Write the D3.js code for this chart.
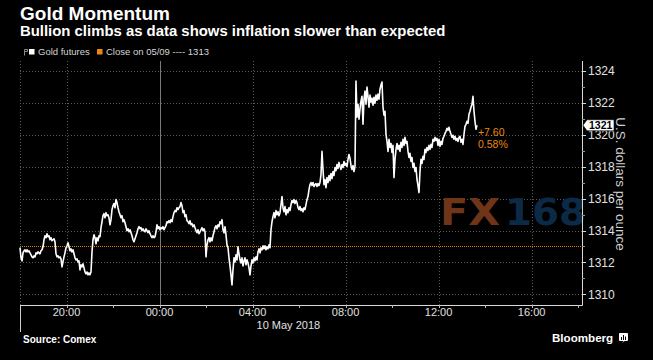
<!DOCTYPE html>
<html><head><meta charset="utf-8">
<script src="https://cdn.jsdelivr.net/npm/d3@7"></script>
<style>html,body{margin:0;padding:0;background:#000;} svg{display:block}</style>
</head><body><svg id="c" width="653" height="360"></svg>
<script>
const title = "Gold Momentum";
const subtitle = "Bullion climbs as data shows inflation slower than expected";
const seriesName = "Gold futures";
const closeLabel = "Close on 05/09 ---- 1313";
const yAxisTitle = "U.S. dollars per ounce";
const sourceText = "Source: Comex";
const dateLabel = "10 May 2018";
const prevClose = 1313;
const yTicks = [1310, 1312, 1314, 1316, 1318, 1320, 1322, 1324];
const yMinorTicks = [1311, 1313, 1315, 1317, 1319, 1321, 1323];
const xTickLabels = ["20:00", "00:00", "04:00", "08:00", "12:00", "16:00"];
const startTime = new Date(2018, 4, 9, 18, 0);
const sampleMinutes = 2.58;
const prices = [
1312.92,1312.29,1312.10,1312.60,1312.73,1312.79,1312.66,1312.79,1312.66,1312.73,
1312.60,1312.48,1312.35,1312.29,1312.41,1312.35,1312.60,1312.54,1312.66,1312.60,
1312.54,1312.73,1312.79,1312.98,1313.42,1313.67,1313.55,1313.80,1313.61,1313.67,
1313.42,1313.55,1313.36,1313.42,1313.48,1313.29,1312.54,1312.35,1312.41,1312.29,
1312.35,1312.22,1311.72,1312.03,1312.35,1312.60,1312.92,1313.04,1313.23,1312.98,
1312.73,1312.85,1312.66,1312.79,1312.54,1312.29,1312.16,1312.22,1312.03,1312.10,
1311.53,1311.85,1311.72,1311.91,1311.66,1311.40,1311.28,1311.40,1311.22,1311.34,
1311.22,1311.40,1312.66,1313.42,1313.73,1313.55,1313.17,1313.55,1313.36,1313.67,
1313.61,1314.18,1314.55,1314.93,1315.06,1314.80,1315.12,1314.93,1314.99,1314.80,
1314.36,1314.68,1315.31,1315.56,1315.69,1315.43,1315.94,1315.75,1315.43,1315.18,
1314.99,1314.80,1314.93,1314.55,1314.68,1314.49,1314.24,1313.99,1314.11,1313.92,
1314.05,1313.86,1313.67,1313.42,1313.29,1313.48,1313.67,1313.86,1314.11,1314.24,
1314.11,1314.18,1313.99,1314.11,1313.99,1313.92,1314.11,1313.99,1313.86,1313.99,
1313.80,1313.67,1313.55,1313.67,1313.55,1313.61,1313.92,1314.36,1314.11,1314.24,
1314.05,1314.18,1314.11,1314.24,1314.05,1314.18,1314.30,1314.55,1314.49,1314.62,
1314.49,1314.68,1314.55,1314.87,1315.12,1315.25,1315.18,1315.43,1315.31,1315.43,
1315.50,1315.75,1315.56,1315.12,1315.25,1314.87,1314.99,1314.62,1314.55,1314.43,
1314.62,1314.36,1314.43,1314.24,1314.36,1314.18,1313.99,1313.86,1314.05,1313.80,
1313.92,1314.05,1314.18,1313.99,1314.11,1313.92,1312.35,1313.10,1313.42,1313.55,
1313.29,1313.55,1313.36,1313.67,1313.92,1314.18,1314.30,1314.11,1314.36,1314.24,
1314.55,1314.43,1314.68,1314.05,1313.86,1314.24,1313.73,1313.10,1312.92,1312.29,
1311.78,1311.22,1310.59,1311.53,1312.29,1312.03,1312.48,1312.16,1312.98,1312.54,
1312.16,1311.97,1312.29,1311.78,1312.10,1312.29,1311.85,1312.16,1311.97,1311.66,
1311.22,1311.78,1312.16,1311.97,1312.29,1312.10,1312.35,1312.16,1312.66,1312.85,
1312.60,1312.92,1312.79,1313.04,1312.85,1313.04,1312.79,1312.98,1312.85,1313.10,
1312.92,1314.05,1314.55,1314.87,1315.12,1314.80,1315.25,1314.99,1315.18,1314.93,
1315.12,1315.62,1316.13,1315.43,1315.18,1315.50,1314.99,1315.31,1315.12,1315.43,
1315.25,1315.62,1315.88,1315.75,1315.94,1315.69,1315.88,1315.75,1315.43,1315.31,
1315.50,1315.25,1315.37,1315.18,1315.43,1315.31,1315.62,1315.94,1316.13,1316.57,
1316.88,1317.01,1316.82,1317.01,1316.76,1316.88,1316.95,1316.76,1316.95,1316.82,
1317.01,1317.51,1318.96,1317.83,1316.88,1317.20,1316.69,1317.32,1317.01,1317.45,
1317.13,1317.58,1317.26,1317.70,1317.45,1317.95,1317.76,1318.14,1317.89,1318.27,
1318.02,1317.83,1318.14,1317.95,1318.33,1318.08,1318.21,1318.02,1318.46,1318.77,
1318.52,1318.08,1317.83,1318.08,1317.70,1318.02,1323.37,1321.10,1321.92,1320.98,
1321.61,1322.11,1322.42,1320.66,1322.24,1322.74,1321.92,1322.99,1322.42,1321.73,
1322.49,1322.05,1322.30,1321.86,1322.36,1321.98,1322.49,1322.17,1322.55,1322.24,
1322.86,1323.12,1323.31,1321.73,1321.23,1321.48,1320.03,1319.59,1318.96,1319.72,
1319.21,1319.46,1318.90,1319.34,1317.32,1318.46,1319.09,1319.46,1319.09,1319.34,
1318.96,1319.53,1319.21,1319.72,1319.34,1319.84,1319.46,1319.59,1318.96,1318.58,
1318.84,1318.33,1318.58,1317.95,1318.21,1317.70,1317.95,1317.20,1316.82,1316.38,
1317.70,1318.46,1318.21,1318.65,1318.46,1319.09,1318.90,1319.21,1319.02,1319.34,
1319.09,1319.40,1319.21,1319.72,1319.59,1319.84,1319.65,1319.78,1319.34,1319.72,
1319.28,1319.59,1319.40,1319.78,1319.91,1320.09,1320.22,1320.41,1320.28,1320.47,
1320.22,1320.03,1319.84,1319.97,1319.72,1319.91,1319.65,1319.78,1319.59,1319.84,
1319.91,1319.53,1319.72,1319.40,1320.03,1320.53,1320.66,1320.85,1320.72,1321.29,
1321.48,1321.73,1321.92,1322.42,1321.48,1320.85,1320.35,1320.60
];

const svg = d3.select("#c");
const W = 653, H = 360;
const plot = {left: 20, right: 582, top: 61, bottom: 305};
svg.append("rect").attr("width", W).attr("height", H).attr("fill", "#000");

const x = d3.scaleTime()
  .domain([new Date(2018, 4, 9, 18, 0), new Date(2018, 4, 10, 18, 10)])
  .range([plot.left, plot.right]);
const y = d3.scaleLinear().domain([1309.33, 1324.63]).range([plot.bottom, plot.top]);

const data = prices.map((p, i) => ({t: new Date(+startTime + i * sampleMinutes * 60000), v: p}));
const majorTimes = d3.timeHour.every(4).range(new Date(2018,4,9,20), x.domain()[1]);
const minorTimes = d3.timeHour.every(2).range(new Date(2018,4,9,20), x.domain()[1]);

const FONT = "'Liberation Sans', Arial, sans-serif";

// horizontal grid
svg.append("g").selectAll("line").data(yTicks).join("line")
  .attr("x1", plot.left).attr("x2", plot.right)
  .attr("y1", d => Math.round(y(d)) + 0.5).attr("y2", d => Math.round(y(d)) + 0.5)
  .attr("stroke", "#5a5a5a").attr("stroke-dasharray", "1,2");

// vertical grid
svg.append("g").selectAll("line").data(majorTimes).join("line")
  .attr("x1", d => Math.round(x(d)) + 0.5).attr("x2", d => Math.round(x(d)) + 0.5)
  .attr("y1", plot.top).attr("y2", plot.bottom)
  .attr("stroke", d => d.getHours() === 0 ? "#7a7a7a" : "#5a5a5a")
  .attr("stroke-dasharray", d => d.getHours() === 0 ? null : "1,2");

// left border
svg.append("line").attr("x1", plot.left + 0.5).attr("x2", plot.left + 0.5)
  .attr("y1", plot.top).attr("y2", plot.bottom)
  .attr("stroke", "#5a5a5a").attr("stroke-dasharray", "1,2");
svg.append("line").attr("x1", plot.left + 0.5).attr("x2", plot.left + 0.5)
  .attr("y1", plot.bottom).attr("y2", 332).attr("stroke", "#cfcfcf");

// watermark
const wm = svg.append("g").attr("font-family", "'DejaVu Sans', sans-serif").attr("font-weight", "bold").attr("font-size", 37);
wm.append("text").attr("x", 440).attr("y", 225).attr("fill", "#6e3519").attr("textLength", 60).attr("lengthAdjust", "spacingAndGlyphs").text("FX");
wm.append("text").attr("x", 505).attr("y", 225).attr("fill", "#0c2a45").attr("textLength", 81).attr("lengthAdjust", "spacingAndGlyphs").text("168");

// close line
svg.append("line").attr("x1", plot.left).attr("x2", plot.right)
  .attr("y1", Math.round(y(prevClose)) + 0.5).attr("y2", Math.round(y(prevClose)) + 0.5)
  .attr("stroke", "#e07f00").attr("stroke-dasharray", "1,1");

// price line
const line = d3.line().x(d => x(d.t)).y(d => y(d.v));
svg.append("path").datum(data).attr("d", line)
  .attr("fill", "none").attr("stroke", "#fff").attr("stroke-width", 1.6)
  .attr("stroke-linejoin", "round");

// axes lines
svg.append("line").attr("x1", plot.left).attr("x2", plot.right + 0.5)
  .attr("y1", plot.bottom + 0.5).attr("y2", plot.bottom + 0.5).attr("stroke", "#d9d9d9");
svg.append("line").attr("x1", plot.right + 0.5).attr("x2", plot.right + 0.5)
  .attr("y1", plot.top).attr("y2", plot.bottom + 0.5).attr("stroke", "#d9d9d9");

// bottom ticks
svg.append("g").selectAll("line").data(minorTimes).join("line")
  .attr("x1", d => Math.round(x(d)) + 0.5).attr("x2", d => Math.round(x(d)) + 0.5)
  .attr("y1", plot.bottom).attr("y2", plot.bottom + 3).attr("stroke", "#bbb");
svg.append("g").selectAll("text").data(majorTimes).join("text")
  .attr("x", d => x(d)).attr("y", 316).attr("text-anchor", "middle")
  .attr("font-family", FONT).attr("font-size", 11).attr("fill", "#e0e0e0")
  .text((d, i) => xTickLabels[i]);
svg.append("text").attr("x", x(new Date(2018,4,10,4)) + 4).attr("y", 329)
  .attr("font-family", FONT).attr("font-size", 11).attr("fill", "#e0e0e0").text(dateLabel);

// right ticks
svg.append("g").selectAll("line").data(yTicks).join("line")
  .attr("x1", plot.right).attr("x2", plot.right + 4)
  .attr("y1", d => Math.round(y(d)) + 0.5).attr("y2", d => Math.round(y(d)) + 0.5).attr("stroke", "#d9d9d9");
svg.append("g").selectAll("line").data(yMinorTicks).join("line")
  .attr("x1", plot.right).attr("x2", plot.right + 3)
  .attr("y1", d => Math.round(y(d)) + 0.5).attr("y2", d => Math.round(y(d)) + 0.5).attr("stroke", "#999");
svg.append("g").selectAll("text").data(yTicks).join("text")
  .attr("x", 588).attr("y", d => y(d)).attr("dy", "0.36em")
  .attr("font-family", FONT).attr("font-size", 12).attr("fill", "#e0e0e0")
  .text(d => d);

// y axis title
svg.append("text").attr("transform", "translate(616,184) rotate(90)")
  .attr("text-anchor", "middle").attr("font-family", FONT).attr("font-size", 13.5)
  .attr("fill", "#d0d0d0").text(yAxisTitle);

// last value box
const last = data[data.length - 1];
const ly = y(last.v);
const box = svg.append("g");
box.append("path")
  .attr("d", `M${plot.right + 1},${ly} L${plot.right + 5},${ly - 5.5} L614,${ly - 5.5} L614,${ly + 5.5} L${plot.right + 5},${ly + 5.5} Z`)
  .attr("fill", "#fff").attr("stroke", "#000").attr("stroke-width", 0.6);
box.append("text").attr("x", 589).attr("y", ly).attr("dy", "0.36em")
  .attr("font-family", FONT).attr("font-size", 10.5).attr("font-weight", "bold").attr("fill", "#000")
  .text(Math.round(last.v));

// change labels
const change = last.v - prevClose;
const pct = change / prevClose * 100;
svg.append("text").attr("x", x(last.t) + 1).attr("y", ly + 11)
  .attr("font-family", FONT).attr("font-size", 10.5).attr("fill", "#e8890c")
  .text((change >= 0 ? "+" : "") + change.toFixed(2));
svg.append("text").attr("x", x(last.t) + 1).attr("y", ly + 23)
  .attr("font-family", FONT).attr("font-size", 10.5).attr("fill", "#e8890c")
  .text(pct.toFixed(2) + "%");

// titles
svg.append("text").attr("x", 20).attr("y", 20).attr("font-family", FONT).attr("font-weight", "bold")
  .attr("font-size", 19).attr("fill", "#fff").text(title);
svg.append("text").attr("x", 20).attr("y", 36).attr("font-family", FONT).attr("font-weight", "bold")
  .attr("font-size", 14.9).attr("fill", "#fff").text(subtitle);

// legend
const lg = svg.append("g");
lg.append("path").attr("d", "M24.5,49.5 h3 v2 h-3 M24.5,49.5 v6").attr("stroke", "#888").attr("fill", "none").attr("stroke-width", 1);
lg.append("rect").attr("x", 29).attr("y", 49).attr("width", 5.5).attr("height", 5.5).attr("fill", "#fff");
lg.append("text").attr("x", 38).attr("y", 55).attr("font-family", FONT).attr("font-size", 9.5).attr("fill", "#d5d5d5").text(seriesName);
lg.append("rect").attr("x", 97).attr("y", 49).attr("width", 5.5).attr("height", 5.5).attr("fill", "#e8890c");
lg.append("text").attr("x", 106).attr("y", 55).attr("font-family", FONT).attr("font-size", 9.5).attr("fill", "#d5d5d5").text(closeLabel);

// footer
svg.append("text").attr("x", 23).attr("y", 342.5).attr("font-family", FONT).attr("font-weight", "bold")
  .attr("font-size", 10).attr("fill", "#fff").text(sourceText);
svg.append("text").attr("x", 552).attr("y", 342).attr("font-family", FONT).attr("font-weight", "bold")
  .attr("font-size", 11.6).attr("fill", "#fff").text("Bloomberg");
const icon = svg.append("g");
icon.append("rect").attr("x", 619).attr("y", 333).attr("width", 9).attr("height", 8).attr("rx", 1).attr("fill", "#fff");
icon.append("path").attr("d", "M622,343 l1.5,-2 h1 Z").attr("fill", "#fff");
icon.selectAll("line.b").data([[621.5, 337], [623.5, 335], [625.5, 336.5]]).join("line")
  .attr("x1", d => d[0]).attr("x2", d => d[0]).attr("y1", d => d[1]).attr("y2", 340)
  .attr("stroke", "#000").attr("stroke-width", 1);
</script></body></html>
